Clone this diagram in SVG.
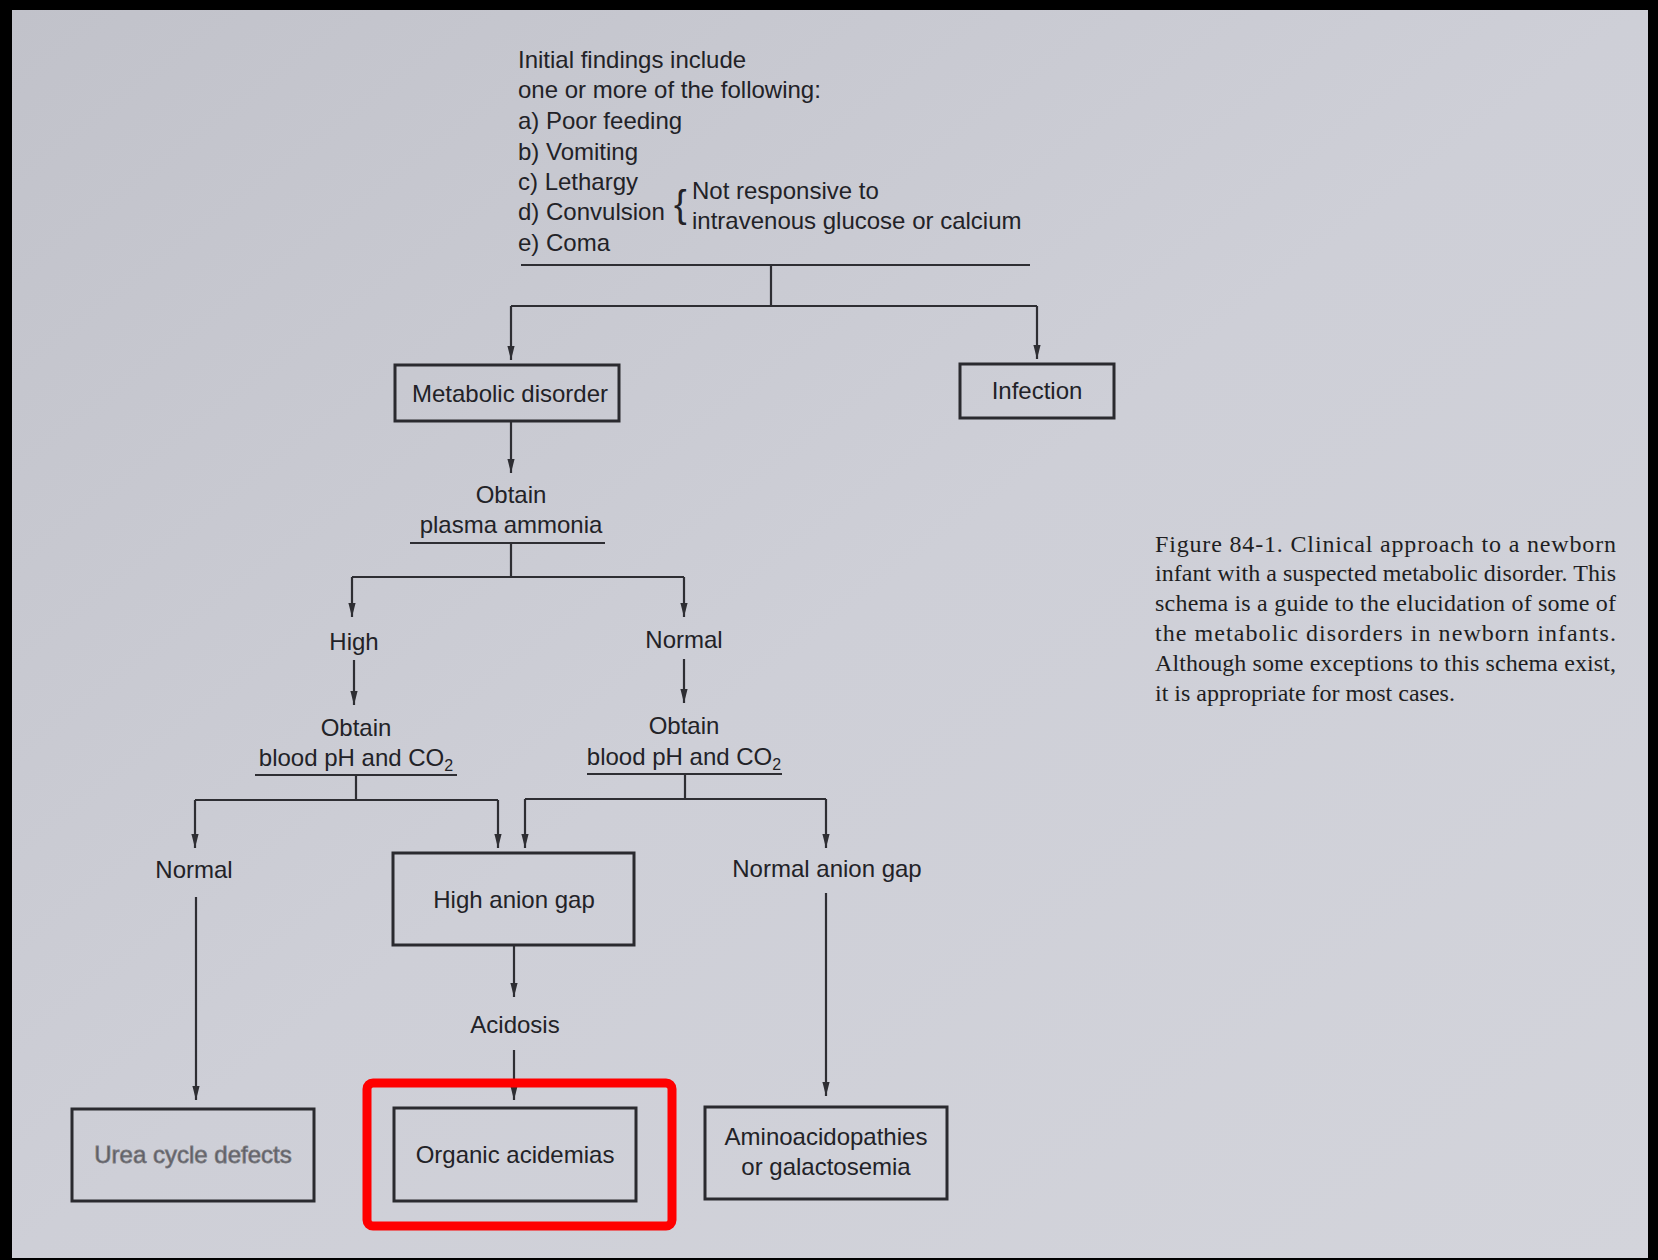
<svg xmlns="http://www.w3.org/2000/svg" width="1658" height="1260" viewBox="0 0 1658 1260">
  <style>
    .t { font-family: "Liberation Sans", Arial, sans-serif; font-size: 24px; fill: #222227; }
    .c { text-anchor: middle; }
    .cap { font-family: "Liberation Serif", "Times New Roman", serif; font-size: 24px; fill: #1e1e22; }
    .box { fill: none; stroke: #2a2a2f; stroke-width: 3; }
    .ln { fill: none; stroke: #2e2e33; stroke-width: 2.2; }
    .ar { fill: none; stroke: #2e2e33; stroke-width: 2.2; marker-end: url(#ah); }
  </style>
  <defs>
    <linearGradient id="paper" x1="0" y1="0" x2="1" y2="1">
      <stop offset="0" stop-color="#c1c2ca"/>
      <stop offset="0.5" stop-color="#cecfd7"/>
      <stop offset="1" stop-color="#d3d4db"/>
    </linearGradient>
    <marker id="ah" viewBox="0 -5 14 10" refX="14" refY="0" markerWidth="14" markerHeight="10" markerUnits="userSpaceOnUse" orient="auto">
      <path d="M0,-3.6 L14,0 L0,3.6 z" fill="#2e2e33"/>
    </marker>
  </defs>

  <rect x="0" y="0" width="1658" height="1260" fill="#000"/>
  <rect x="12" y="10" width="1636" height="1248" fill="url(#paper)"/>

  <g id="initial-findings">
    <text class="t" x="518" y="68">Initial findings include</text>
    <text class="t" x="518" y="98">one or more of the following:</text>
    <text class="t" x="518" y="129">a) Poor feeding</text>
    <text class="t" x="518" y="160">b) Vomiting</text>
    <text class="t" x="518" y="190">c) Lethargy</text>
    <text class="t" x="518" y="220">d) Convulsion</text>
    <text class="t" x="518" y="251">e) Coma</text>
    <text class="t" x="674" y="217" style="font-size:38px">{</text>
    <text class="t" x="692" y="199">Not responsive to</text>
    <text class="t" x="692" y="229">intravenous glucose or calcium</text>
  </g>

  <g id="connectors">
    <path class="ln" d="M521,265 H1030"/>
    <path class="ln" d="M771,265 V306 M511,306 H1037"/>
    <path class="ar" d="M511,306 V360"/>
    <path class="ar" d="M1037,306 V359"/>
    <path class="ar" d="M511,421 V473"/>
    <path class="ln" d="M410,543 H605"/>
    <path class="ln" d="M511,543 V577 M352,577 H684"/>
    <path class="ar" d="M352,577 V617"/>
    <path class="ar" d="M684,577 V617"/>
    <path class="ar" d="M354,660 V705"/>
    <path class="ar" d="M684,659 V703"/>
    <path class="ln" d="M255,775 H457"/>
    <path class="ln" d="M587,774 H782"/>
    <path class="ln" d="M356,775 V800 M195,800 H498"/>
    <path class="ar" d="M195,800 V848"/>
    <path class="ar" d="M498,800 V848"/>
    <path class="ln" d="M685,774 V799 M525,799 H826"/>
    <path class="ar" d="M525,799 V848"/>
    <path class="ar" d="M826,799 V848"/>
    <path class="ar" d="M196,897 V1100"/>
    <path class="ar" d="M826,893 V1096"/>
    <path class="ar" d="M514,945 V997"/>
    <path class="ar" d="M514,1050 V1100"/>
  </g>

  <g id="metabolic-disorder">
    <rect class="box" x="395" y="365" width="224" height="56"/>
    <text class="t c" x="510" y="402">Metabolic disorder</text>
  </g>
  <g id="infection">
    <rect class="box" x="960" y="364" width="154" height="54"/>
    <text class="t c" x="1037" y="399">Infection</text>
  </g>
  <g id="obtain-ammonia">
    <text class="t c" x="511" y="503">Obtain</text>
    <text class="t c" x="511" y="533">plasma ammonia</text>
  </g>
  <g id="high">
    <text class="t c" x="354" y="650">High</text>
  </g>
  <g id="normal-ammonia">
    <text class="t c" x="684" y="648">Normal</text>
  </g>
  <g id="obtain-ph-left">
    <text class="t c" x="356" y="736">Obtain</text>
    <text class="t c" x="356" y="766">blood pH and CO<tspan font-size="16" dy="5">2</tspan></text>
  </g>
  <g id="obtain-ph-right">
    <text class="t c" x="684" y="734">Obtain</text>
    <text class="t c" x="684" y="765">blood pH and CO<tspan font-size="16" dy="5">2</tspan></text>
  </g>
  <g id="normal-left">
    <text class="t c" x="194" y="878">Normal</text>
  </g>
  <g id="high-anion-gap">
    <rect class="box" x="393" y="853" width="241" height="92"/>
    <text class="t c" x="514" y="908">High anion gap</text>
  </g>
  <g id="normal-anion-gap">
    <text class="t c" x="827" y="877">Normal anion gap</text>
  </g>
  <g id="acidosis">
    <text class="t c" x="515" y="1033">Acidosis</text>
  </g>
  <g id="urea-cycle-defects">
    <rect class="box" x="72" y="1109" width="242" height="92"/>
    <text class="t c" x="193" y="1163" style="fill:#5c5c62;stroke:#7a7a80;stroke-width:0.8">Urea cycle defects</text>
  </g>
  <g id="organic-acidemias">
    <rect class="box" x="394" y="1108" width="242" height="93"/>
    <text class="t c" x="515" y="1163">Organic acidemias</text>
  </g>
  <g id="aminoacidopathies">
    <rect class="box" x="705" y="1107" width="242" height="92"/>
    <text class="t c" x="826" y="1145">Aminoacidopathies</text>
    <text class="t c" x="826" y="1175">or galactosemia</text>
  </g>
  <g id="highlight">
    <rect x="367" y="1083" width="305" height="143" rx="6" fill="none" stroke="#ff0000" stroke-width="9"/>
  </g>

  <g id="caption">
    <text class="cap" x="1155" y="552" textLength="461" lengthAdjust="spacing">Figure 84-1. Clinical approach to a newborn</text>
    <text class="cap" x="1155" y="581" textLength="461" lengthAdjust="spacing">infant with a suspected metabolic disorder. This</text>
    <text class="cap" x="1155" y="611" textLength="461" lengthAdjust="spacing">schema is a guide to the elucidation of some of</text>
    <text class="cap" x="1155" y="641" textLength="461" lengthAdjust="spacing">the metabolic disorders in newborn infants.</text>
    <text class="cap" x="1155" y="671" textLength="461" lengthAdjust="spacing">Although some exceptions to this schema exist,</text>
    <text class="cap" x="1155" y="701">it is appropriate for most cases.</text>
  </g>
</svg>
